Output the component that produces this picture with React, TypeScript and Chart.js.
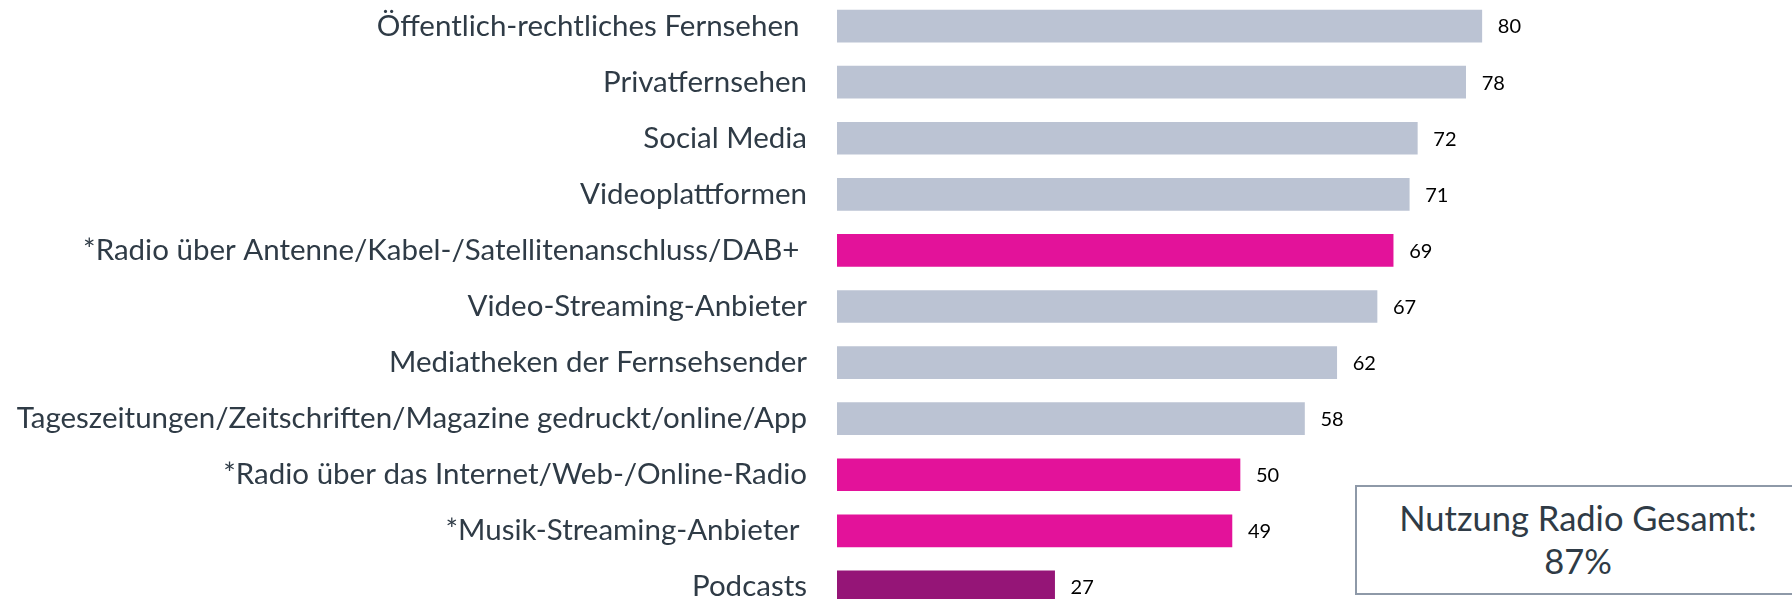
import React, { useEffect, useRef } from "react";
import { Chart, registerables } from "chart.js";

Chart.register(...registerables);

const categories = [
  "Öffentlich-rechtliches Fernsehen ",
  "Privatfernsehen",
  "Social Media",
  "Videoplattformen",
  "*Radio über Antenne/Kabel-/Satellitenanschluss/DAB+ ",
  "Video-Streaming-Anbieter",
  "Mediatheken der Fernsehsender",
  "Tageszeitungen/Zeitschriften/Magazine gedruckt/online/App",
  "*Radio über das Internet/Web-/Online-Radio",
  "*Musik-Streaming-Anbieter ",
  "Podcasts",
];

const values = [80, 78, 72, 71, 69, 67, 62, 58, 50, 49, 27];

const groups = [
  "media", "media", "media", "media", "radio", "media",
  "media", "media", "radio", "radio", "podcast",
];

const totalLabel = "Nutzung Radio Gesamt:";
const totalValue = "87%";

const FONT = "Lato, 'Open Sans', sans-serif";
const groupColors: Record<string, string> = {
  media: "#BBC3D3",
  radio: "#E3129A",
  podcast: "#951577",
};

export default function App() {
  const ref = useRef<HTMLCanvasElement>(null);

  useEffect(() => {
    if (!ref.current) return;
    const valuePlugin = {
      id: "valueLabels",
      afterDatasetsDraw(chart: any) {
        const ctx = chart.ctx;
        const meta = chart.getDatasetMeta(0);
        ctx.save();
        ctx.font = `20px ${FONT}`;
        ctx.fillStyle = "#000000";
        ctx.textAlign = "left";
        ctx.textBaseline = "middle";
        meta.data.forEach((el: any, i: number) => {
          ctx.fillText(String(values[i]), el.x + 16, el.y + 1);
        });
        ctx.restore();
      },
    };

    const chart = new Chart(ref.current, {
      type: "bar",
      data: {
        labels: categories,
        datasets: [
          {
            data: values,
            backgroundColor: groups.map((g) => groupColors[g]),
            barThickness: 32,
            borderWidth: 0,
          },
        ],
      },
      options: {
        indexAxis: "y",
        responsive: false,
        animation: false,
        layout: { padding: { left: 0, right: 149, top: 0, bottom: 0 } },
        plugins: { legend: { display: false }, tooltip: { enabled: false } },
        scales: {
          x: { display: false, min: 0, max: 100 },
          y: {
            grid: { display: false, drawTicks: false },
            border: { display: false },
            ticks: {
              color: "#2F3B46",
              font: { family: FONT, size: 29.5 },
              padding: 30,
              autoSkip: false,
            },
            afterFit: (s: any) => {
              s.width = 837;
              s.paddingTop = 0;
              s.paddingBottom = 0;
            },
          },
        },
      },
      plugins: [valuePlugin],
    } as any);
    return () => chart.destroy();
  }, []);

  return (
    <div
      style={{
        position: "fixed",
        left: 0,
        top: 0,
        width: 1792,
        height: 599,
        overflow: "hidden",
        background: "#ffffff",
      }}
    >
      <canvas
        ref={ref}
        width={1792}
        height={617}
        style={{ position: "absolute", left: 0, top: -2, width: 1792, height: 617 }}
      />
      <div
        style={{
          position: "absolute",
          left: 1355,
          top: 485,
          width: 446,
          height: 110,
          boxSizing: "border-box",
          border: "2px solid #8E99A8",
          background: "#ffffff",
          display: "flex",
          flexDirection: "column",
          alignItems: "center",
          justifyContent: "center",
          fontFamily: FONT,
          fontSize: 34.5,
          lineHeight: "43px",
          color: "#2F3B46",
          paddingBottom: 2,
        }}
      >
        <div>{totalLabel}</div>
        <div>{totalValue}</div>
      </div>
    </div>
  );
}
